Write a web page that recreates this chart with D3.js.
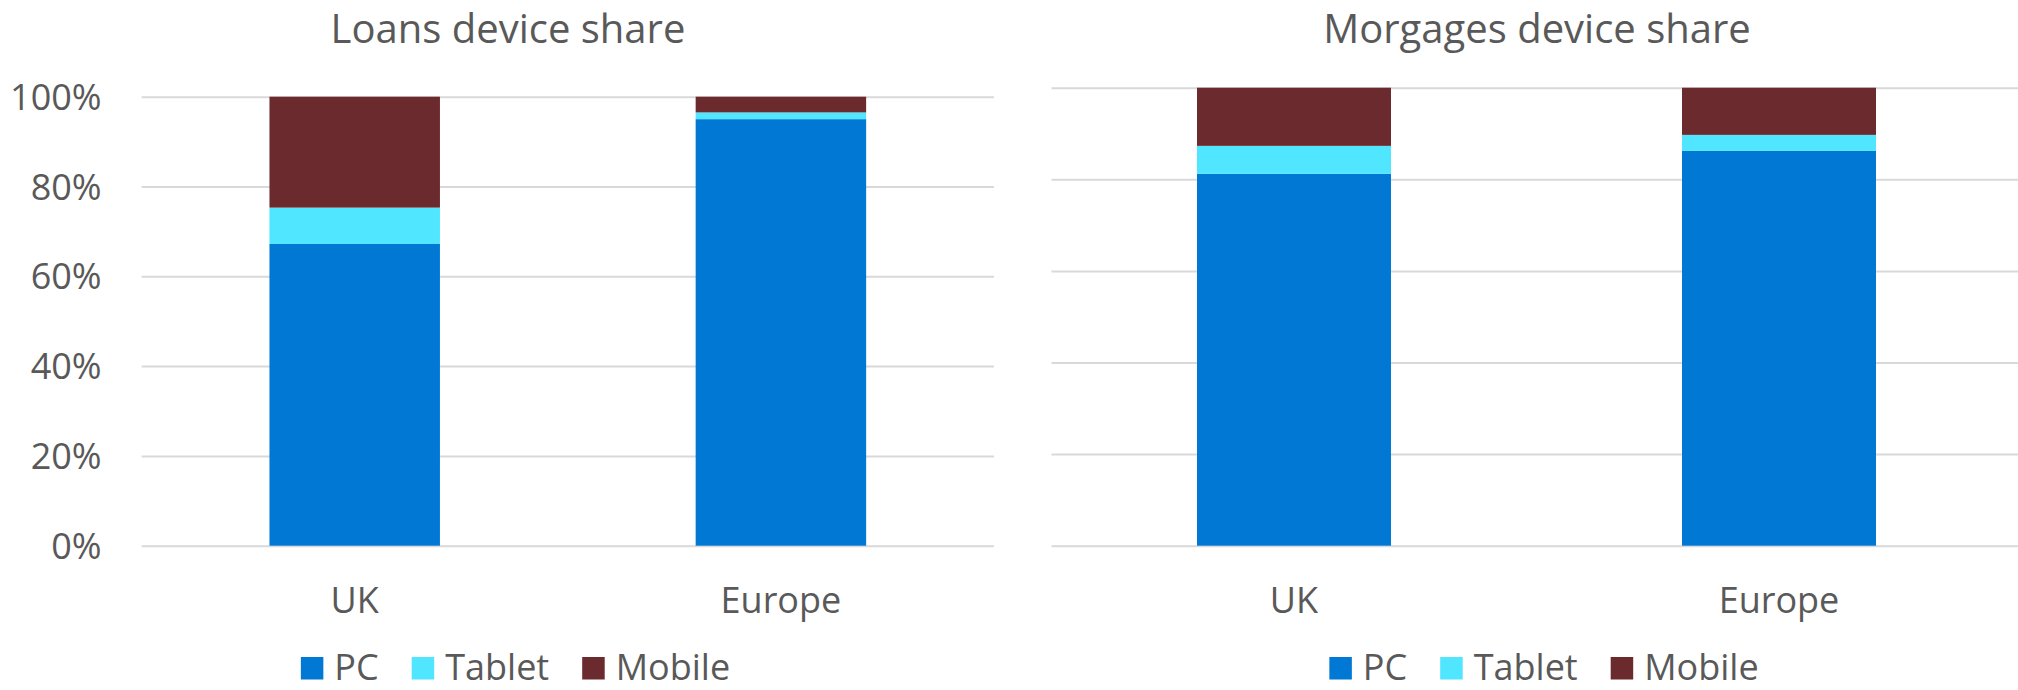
<!DOCTYPE html>
<html>
<head>
<meta charset="utf-8">
<script src="https://cdn.jsdelivr.net/npm/d3@7"></script>
<style>
  html, body { margin: 0; padding: 0; background: #fff; }
  svg { display: block; }
  text { font-family: "Open Sans", "Noto Sans", sans-serif; fill: #595959; }
</style>
</head>
<body>
<svg id="chart" width="2018" height="690"></svg>
<script>
// ---- data ----
const categories = ["UK", "Europe"];
const seriesNames = ["PC", "Tablet", "Mobile"];
const seriesColors = ["#0078D4", "#50E6FF", "#6B2A2D"];
const yTicks = [0, 20, 40, 60, 80, 100];

const loansPC = [67.2, 95.0];
const loansTablet = [8.1, 1.5];
const loansMobile = [24.7, 3.5];

const mortgagesPC = [81.2, 86.2];
const mortgagesTablet = [6.1, 3.5];
const mortgagesMobile = [12.7, 10.3];

const loansTitle = "Loans device share";
const mortgagesTitle = "Morgages device share";

// ---- layout ----
const svg = d3.select("#chart");

const panels = [
  { title: loansTitle, pc: loansPC, tablet: loansTablet, mobile: loansMobile,
    x0: 141.6, x1: 994, yTop: 96.7, yBot: 545.7, titleX: 508, legendX: 515.5, showLabels: true },
  { title: mortgagesTitle, pc: mortgagesPC, tablet: mortgagesTablet, mobile: mortgagesMobile,
    x0: 1051.5, x1: 2021.5, yTop: 87.7, yBot: 545.7, titleX: 1537, legendX: 1544, showLabels: false }
];

panels.forEach(p => {
  const g = svg.append("g");
  const rows = categories.map((c, i) => ({ cat: c, PC: p.pc[i], Tablet: p.tablet[i], Mobile: p.mobile[i] }));

  const x = d3.scaleBand().domain(categories).range([p.x0, p.x1]).paddingInner(0.6).paddingOuter(0.3);
  const y = d3.scaleLinear().domain([0, 100]).range([p.yBot, p.yTop]);
  const color = d3.scaleOrdinal().domain(seriesNames).range(seriesColors);

  // gridlines
  const grid = g.append("g")
    .attr("transform", `translate(${p.x0},0)`)
    .call(d3.axisLeft(y).tickValues(yTicks).tickSize(-(p.x1 - p.x0)).tickFormat(""));
  grid.select(".domain").remove();
  grid.selectAll("line").attr("stroke", "#D9D9D9").attr("stroke-width", 2);

  // y labels
  if (p.showLabels) {
    const lab = g.append("g")
      .attr("transform", `translate(${p.x0 - 40},0)`)
      .call(d3.axisLeft(y).tickValues(yTicks).tickSize(0).tickPadding(0).tickFormat(d => d + "%"));
    lab.select(".domain").remove();
    lab.selectAll("text")
      .attr("font-size", 36)
      .attr("fill", "#595959")
      .attr("font-family", "'Open Sans', sans-serif")
      .attr("dy", null)
      .attr("y", 12.5);
  }

  // stacked bars
  const stacked = d3.stack().keys(seriesNames)(rows);
  g.append("g").selectAll("g")
    .data(stacked)
    .join("g")
    .attr("fill", d => color(d.key))
    .selectAll("rect")
    .data(d => d)
    .join("rect")
    .attr("x", d => x(d.data.cat))
    .attr("width", x.bandwidth())
    .attr("y", d => y(d[1]))
    .attr("height", d => y(d[0]) - y(d[1]));

  // category labels
  g.append("g").selectAll("text")
    .data(categories)
    .join("text")
    .attr("x", d => x(d) + x.bandwidth() / 2)
    .attr("y", 612.5)
    .attr("text-anchor", "middle")
    .attr("font-size", 36)
    .text(d => d);

  // title
  g.append("text")
    .attr("x", p.titleX)
    .attr("y", 42.5)
    .attr("text-anchor", "middle")
    .attr("font-size", 40)
    .text(p.title);

  // legend
  const leg = g.append("g");
  const sq = 22.5, gapText = 11, gapItem = 33;
  let cx = 0;
  seriesNames.forEach((s, i) => {
    const item = leg.append("g").attr("transform", `translate(${cx},0)`);
    item.append("rect").attr("x", 0).attr("y", 657).attr("width", sq).attr("height", sq).attr("fill", color(s));
    const t = item.append("text").attr("x", sq + gapText).attr("y", 679.5).attr("font-size", 36).text(s);
    const w = t.node().getComputedTextLength();
    cx += sq + gapText + w + gapItem;
  });
  const total = cx - gapItem;
  leg.attr("transform", `translate(${p.legendX - total / 2},0)`);
});
</script>
</body>
</html>
